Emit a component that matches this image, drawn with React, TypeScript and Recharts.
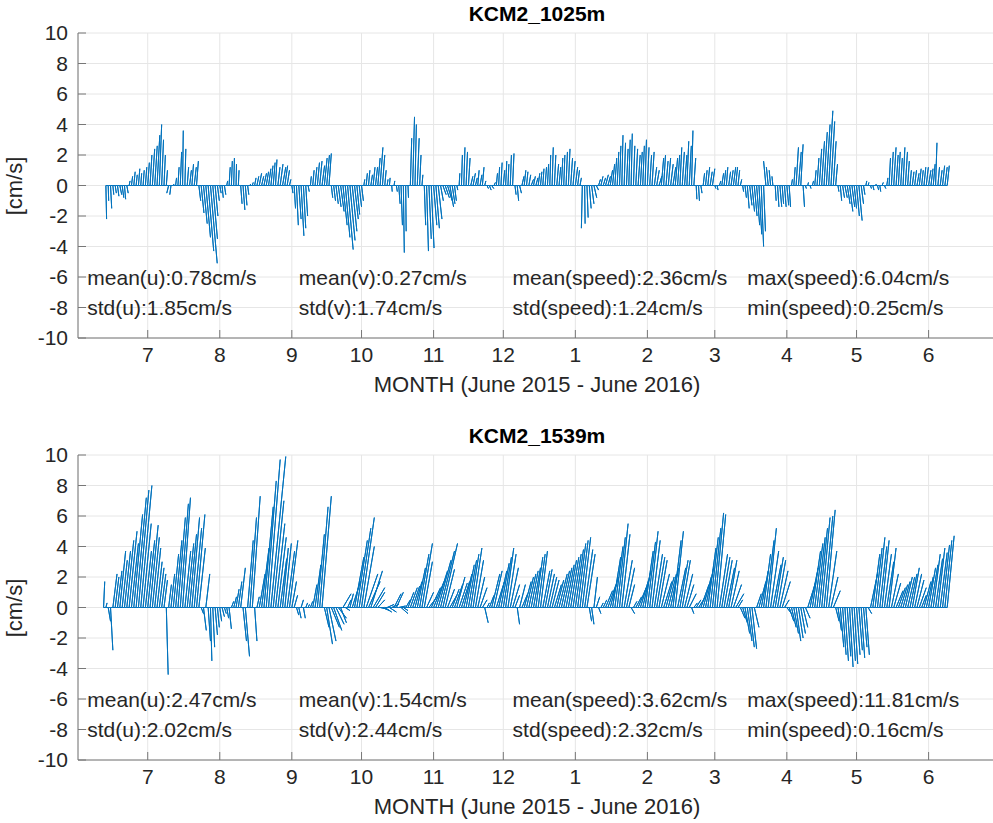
import React from "react";
import { ComposedChart, Line, Scatter, XAxis, YAxis, CartesianGrid } from "recharts";

// month ticks, in days from 1 July 2015
const monthTicks = [0, 31, 62, 92, 123, 153, 184, 215, 244, 275, 305, 336];
const monthLabels = ["7", "8", "9", "10", "11", "12", "1", "2", "3", "4", "5", "6"];
const speedTicks = [-10, -8, -6, -4, -2, 0, 2, 4, 6, 8, 10];

// KCM2_1025m, one stick per day starting at day -18
const start1025 = -18;
const v1025 = [
  -2.2, -1.0, -1.5, -0.6, -0.5, -0.7, -0.6, -0.8, -0.9, -0.5,
  0.3, 0.6, 0.9, 0.7, 1.1, 0.8, 1.0, 1.2, 1.5, 2.0,
  2.4, 2.6, 3.3, 4.0, 3.0, 2.0, 1.0, -0.5, -0.6, 0.1,
  0.5, 1.2, 2.2, 3.6, 2.4, 1.2, 1.0, 1.4, 1.2, 1.6,
  -1.0, -1.8, -2.5, -3.4, -4.3, -5.1, -3.5, -2.0, -1.0, -0.5,
  -0.8, -0.6, 0.3, 1.2, 1.6, 1.8, 1.4, 1.0, -1.2, -1.6,
  -1.3, -0.6, 0.1, 0.2, 0.5, 0.6, 0.8, 0.6, 0.8, 0.9,
  1.1, 1.3, 1.5, 1.7, 1.2, 1.4, 1.2, 1.3, 1.0, 0.4,
  -0.5, -1.5, -2.6, -2.2, -3.3, -2.8, -2.0, -0.4, 0.6, 1.0,
  1.2, 1.5, 1.6, 1.3, 1.8, 2.0, 2.1, -0.8, -1.0, -1.2,
  -1.4, -1.7, -2.6, -3.4, -4.2, -3.6, -3.0, -2.2, -1.9, -1.4,
  -1.0, 0.4, 0.8, 1.0, 0.7, 1.2, 1.2, 1.8, 2.5, 2.0,
  1.0, 0.4, 0.5, -0.4, 0.3, -0.4, -1.2, -2.6, -4.4, -3.0,
  -0.8, 3.1, 4.5, 4.0, 3.1, 2.0, 0.7, -2.6, -4.3, -3.5,
  -4.1, -2.6, -2.8, -2.2, -1.0, -0.6, -0.8, -1.0, -1.4, -1.2,
  -1.0, -0.3, 0.8, 2.0, 2.5, 2.2, 1.8, 0.6, 0.8, 0.5,
  1.0, 0.7, 1.2, 0.3, -0.2, -0.3, -0.2, 0.2, 0.8, 1.2,
  1.5, 1.0, 1.6, 1.4, 2.0, 2.1, -0.6, -1.0, -0.5, 0.6,
  1.0, 0.9, 0.7, 0.4, 0.6, 0.5, 0.8, 0.9, 1.1, 1.2,
  1.4, 2.0, 2.5, 2.0, 1.4, 1.2, 1.8, 2.0, 2.2, 2.4,
  1.8, 1.6, 1.2, 1.0, 0.5, -2.8, -2.5, -2.1, -1.5, -1.2,
  -0.8, -0.3, 0.4, 0.6, 0.5, 0.7, 0.6, 1.0, 1.4, 1.8,
  2.2, 2.6, 3.3, 2.8, 2.4, 3.0, 3.4, 2.6, 2.4, 2.0,
  2.2, 2.6, 3.0, 2.5, 2.0, 2.2, 1.2, 1.0, 0.6, 1.8,
  2.0, 1.6, 1.8, 1.4, 1.2, 1.8, 2.0, 2.5, 2.2, 2.0,
  2.9, 2.6, 3.6, 1.8, -0.9, -1.0, -0.5, 0.8, 1.0, 1.2,
  0.9, 1.1, -0.2, -0.3, 0.3, 0.8, 1.0, 1.2, 0.9, 1.0,
  1.2, 1.2, 1.0, 0.4, -0.4, -0.8, -1.5, -1.3, -1.7, -2.0,
  -2.6, -3.2, -4.0, -3.0, 1.6, 1.2, 1.0, 0.6, -1.0, -1.4,
  -1.4, -1.2, -1.4, -1.3, -1.4, 0.4, 1.2, 2.5, 2.2, 2.7,
  -1.4, -0.2, 0.2, -0.2, 0.3, 1.0, 1.8, 2.4, 2.9, 3.5,
  4.0, 4.9, 4.2, 2.9, 1.4, -0.4, -1.0, -0.8, -0.8, -1.2,
  -1.7, -1.4, -1.5, -2.0, -2.3, -1.2, -0.6, 0.3, 0.2, -0.2,
  -0.3, 0.1, -0.3, -0.4, 0.2, -0.2, 0.5, 1.8, 2.2, 2.5,
  2.0, 2.2, 1.8, 2.5, 2.2, 1.6, 1.0, 0.9, 1.0, 0.8,
  1.1, 1.0, 1.2, 1.2, 1.0, 1.1, 1.4, 2.8, 1.2, 1.0, 1.3, 1.2, 1.3,
];
const u1025 = [
  0.3, 0.2, 0.5, 0.4, 0.5, 0.6, 0.8, 0.7, 0.5, 0.6,
  0.4, 0.5, 0.6, 0.5, 0.6, 0.4, 0.5, 0.6, 0.7, 0.8,
  1.0, 1.1, 1.2, 1.0, 0.8, 0.6, 0.5, -0.8, -0.5, 0.3,
  0.4, 0.5, 0.6, 0.3, 0.4, 0.6, 0.8, 0.7, 0.9, 0.8,
  0.8, 1.2, 1.6, 2.0, 2.4, 2.9, 2.0, 1.2, 0.8, 0.6,
  0.5, 0.6, 0.4, 0.5, 0.4, 0.3, 0.2, 0.3, 0.6, 0.8,
  0.7, 0.5, 0.3, 0.4, 0.6, 0.8, 1.0, 0.9, 1.1, 1.0,
  1.0, 0.9, 0.8, 0.6, 0.9, 1.2, 1.4, 1.2, 1.0, 0.6,
  0.5, 0.6, 0.8, 1.0, 1.2, 1.0, 0.8, 0.5, 0.4, 0.6,
  0.8, 0.9, 1.0, 1.1, 1.2, 1.2, 1.0, 0.6, 0.8, 1.0,
  1.2, 1.5, 1.8, 2.0, 2.4, 2.2, 2.0, 1.6, 1.2, 1.0,
  0.8, 0.4, 0.5, 0.6, 0.7, 0.8, 0.9, 1.0, 1.2, 1.0,
  0.6, 0.4, 0.3, 0.2, 0.3, 0.4, 0.6, 0.6, 0.4, 0.2,
  0.2, 0.6, 0.8, 0.6, 0.8, 0.6, 0.4, 0.6, 0.8, 1.0,
  1.2, 1.4, 1.5, 1.6, 1.2, 1.4, 1.8, 2.0, 1.6, 1.2,
  0.8, 0.4, 0.3, 0.4, 0.5, 0.6, 0.7, 0.9, 1.0, 0.8,
  0.6, 0.8, 0.7, 0.5, 0.6, 0.8, 0.9, 0.6, 0.5, 0.4,
  0.5, 0.6, 0.5, 0.4, 0.5, 0.6, 0.5, 0.6, 0.8, 0.9,
  0.7, 0.6, 0.8, 1.0, 0.8, 0.9, 0.7, 0.6, 0.5, 0.6,
  0.5, 0.4, 0.5, 0.6, 0.8, 0.7, 0.6, 0.5, 0.6, 0.7,
  0.8, 0.9, 1.0, 0.8, 0.6, -0.4, 0.2, 0.5, 0.8, 1.0,
  1.2, 1.0, 0.8, 0.9, 1.0, 1.2, 1.1, 1.0, 0.9, 0.8,
  0.7, 0.6, 0.5, 0.6, 0.7, 0.6, 0.5, 0.6, 0.8, 0.9,
  0.8, 0.7, 0.6, 0.7, 0.8, 0.9, 1.0, 1.1, 1.2, 1.0,
  0.8, 0.9, 1.0, 1.1, 1.2, 1.0, 0.9, 0.8, 0.9, 1.0,
  0.8, 0.9, 0.6, 0.8, 0.3, 0.4, 0.5, 0.6, 0.7, 0.8,
  0.9, 1.0, 0.5, 0.4, 0.6, 0.8, 0.7, 0.6, 0.8, 0.9,
  1.0, 0.8, 0.7, 0.6, 0.4, 0.6, 0.8, 1.0, 1.1, 1.2,
  1.3, 1.2, 1.0, 0.8, -1.0, -0.8, -0.6, -0.4, 0.4, 0.6,
  0.8, 0.6, 0.7, 0.8, 0.6, 0.4, 0.6, 1.0, 1.2, 1.0,
  0.6, 0.4, 0.3, 0.4, 0.5, 0.6, 0.8, 1.0, 1.2, 1.4,
  1.6, 1.8, 1.6, 1.2, 0.8, 0.4, 0.6, 0.8, 1.0, 1.2,
  1.4, 1.2, 1.0, 1.2, 1.4, 1.0, 0.6, 0.4, 0.3, 0.4,
  0.5, 0.6, 0.5, 0.4, 0.5, 0.6, 0.5, 0.6, 0.8, 1.0,
  0.9, 0.8, 0.7, 0.8, 0.9, 0.7, 0.6, 0.7, 0.8, 0.9,
  0.8, 0.7, 0.8, 0.9, 1.0, 0.9, 0.8, 0.6, 0.7, 0.8, 0.9, 1.0, 0.9,
];

// KCM2_1539m, one stick per day starting at day -19
const start1539 = -19;
const v1539 = [
  1.7, 0.3, -0.9, -2.8, 2.2, 2.0, 2.4, 3.7, 3.1, 3.7,
  4.4, 5.0, 4.2, 6.1, 7.2, 7.7, 8.0, 5.5, 3.7, 4.4,
  5.4, 4.6, 3.9, 3.0, 2.6, 2.2, 1.8, -4.4, 1.5, 2.2,
  3.5, 4.4, 5.9, 6.8, 7.2, 3.7, 4.2, 4.8, 5.9, 5.2,
  6.1, 3.9, -0.4, -1.5, 2.2, -2.2, -3.5, -2.6, -1.8, -1.3,
  -0.9, -0.6, -0.4, -0.7, -1.4, 0.4, 0.7, 1.2, 1.7, 2.6,
  -2.2, -3.2, 4.4, 5.9, 7.3, -2.2, 0.7, 2.2, 3.9, 6.6,
  8.3, 9.7, 9.9, 7.0, 5.5, 4.6, 3.2, 3.9, 4.2, 3.7,
  4.4, 1.7, 0.8, -0.5, -0.7, 0.5, -0.7, 0.3, 0.2, 0.4,
  1.5, 2.8, 4.8, 6.6, 7.3, -1.3, -2.4, -2.2, -1.3, -1.5,
  -1.1, -0.7, -1.0, 0.9, -0.2, 0.5, 0.9, 1.7, 3.3, 4.4,
  5.2, 5.9, 4.0, 2.2, 1.7, 2.4, 1.3, 1.0, 0.5, -0.1,
  -0.2, -0.3, 0.2, -0.3, 0.2, 0.9, 1.0, 0.1, -0.4, -0.2,
  0.5, 1.0, 1.3, 1.4, 1.7, 2.6, 3.5, 4.2, 3.0, 1.0,
  0.7, 1.3, 1.7, 2.4, 3.1, 3.7, 4.2, 2.5, 1.2, 0.8,
  1.2, 1.5, 2.0, 1.6, 1.7, 2.2, 2.8, 3.1, 3.5, 3.9,
  3.1, 2.0, 1.3, 0.5, -1.0, 0.3, 0.8, 2.2, 2.4, 1.7,
  2.4, 2.9, 3.3, 3.9, 3.5, 2.6, 1.5, 0.8, -1.1, 1.5,
  0.9, 1.7, 2.0, 2.2, 2.4, 2.6, 3.3, 3.5, 3.7, 2.4,
  2.5, 2.2, 2.0, 1.8, 1.5, 1.8, 2.2, 2.4, 2.6, 2.8,
  3.1, 3.3, 3.5, 3.8, 4.2, 4.4, 4.6, 3.8, 3.5, -0.9,
  -1.1, 2.0, 0.7, -0.4, 0.3, 0.5, 1.1, 1.5, 2.0, 3.3,
  4.0, 4.6, 5.5, 4.8, 3.1, 2.6, 1.5, -0.4, 0.4, 0.7,
  1.3, 1.8, 2.4, 3.7, 4.3, 5.0, 4.4, 3.5, 3.3, 3.1,
  2.2, 1.7, 2.0, 2.2, 2.6, 4.4, 5.0, 2.6, 3.1, 3.1,
  2.2, 1.5, 0.9, -0.4, 0.3, 0.5, 0.7, 1.5, 2.0, 2.6,
  3.9, 4.6, 5.2, 6.2, 6.1, 3.5, 3.3, 3.1, 2.6, 3.1,
  2.4, 1.5, 0.9, 0.5, -0.7, -1.0, -1.7, -2.2, -2.6, -2.7,
  -1.3, 0.9, 1.7, 2.4, 3.5, 4.4, 5.2, 3.7, 2.8, 3.3,
  3.1, 2.4, 1.7, 0.5, -0.4, -0.9, -1.3, -1.7, -2.2, -2.0,
  -1.7, -1.3, -0.7, 1.7, 2.6, 3.7, 4.2, 4.6, 5.2, 5.9,
  6.0, 6.4, 3.7, 2.0, 1.1, -0.9, -1.5, -2.6, -3.1, -3.5,
  -3.2, -3.9, -3.5, -3.7, -3.1, -2.8, -3.3, -2.6, -3.1, -0.4,
  2.2, 3.5, 3.9, 4.6, 4.0, 4.4, 3.5, 3.0, 3.9, 2.2,
  1.6, 1.1, 1.3, 1.5, 1.7, 2.0, 2.0, 2.2, 2.6, 2.2,
  1.8, 1.3, 0.8, 1.7, 2.0, 2.6, 2.8, 3.5, 3.2, 3.9, 3.6, 4.1, 4.4, 4.7,
];
const u1539 = [
  0.5, 0.5, 1.0, 1.0, 1.8, 1.6, 1.9, 2.5, 2.2, 2.6,
  3.0, 3.4, 3.0, 3.8, 4.4, 4.5, 4.8, 3.5, 2.6, 3.0,
  3.5, 3.0, 2.6, 2.2, 2.0, 1.8, 1.5, 0.8, 1.2, 1.6,
  2.3, 2.7, 3.2, 3.5, 3.4, 2.5, 2.8, 3.0, 3.3, 3.2,
  3.6, 2.8, 1.0, 1.2, 1.7, 1.0, 0.6, 0.8, 1.0, 0.8,
  0.8, 1.0, 0.8, 0.8, 1.0, 1.0, 1.2, 1.3, 1.5, 2.0,
  1.5, 1.8, 2.4, 2.8, 3.4, 1.0, 1.0, 2.5, 3.2, 4.0,
  4.3, 5.0, 6.4, 4.6, 4.0, 3.6, 2.8, 2.5, 2.8, 3.2,
  3.6, 2.0, 1.5, 1.0, 1.0, 1.0, 0.8, 0.8, 0.6, 1.0,
  1.8, 2.5, 3.0, 3.6, 4.0, 2.0, 2.5, 3.0, 3.5, 3.5,
  3.5, 3.5, 2.5, 3.5, 2.0, 1.5, 1.5, 3.5, 4.0, 4.5,
  5.0, 5.5, 4.5, 5.0, 5.0, 5.0, 5.0, 4.0, 3.0, 3.0,
  3.0, 3.0, 3.0, 3.0, 3.0, 3.0, 3.0, 3.0, 3.0, 2.0,
  2.0, 2.5, 3.0, 3.0, 3.0, 3.5, 4.0, 4.5, 3.5, 3.0,
  3.5, 4.0, 4.5, 5.0, 5.5, 6.0, 6.3, 4.0, 3.0, 3.0,
  3.0, 3.5, 3.5, 3.5, 3.5, 3.5, 3.5, 3.5, 3.5, 3.8,
  3.5, 3.0, 3.0, 2.0, 1.5, 1.0, 2.0, 3.5, 3.5, 3.5,
  3.5, 3.5, 3.5, 3.5, 3.5, 3.5, 3.0, 2.0, 1.0, 2.5,
  2.5, 3.0, 3.0, 3.0, 3.0, 3.0, 3.0, 3.0, 3.0, 3.0,
  3.0, 3.0, 3.0, 3.0, 3.0, 3.0, 3.5, 3.5, 3.5, 3.5,
  3.5, 3.5, 3.5, 3.5, 3.5, 3.5, 3.6, 3.5, 3.5, 1.0,
  1.0, 1.5, 1.5, 1.0, 1.0, 1.5, 3.0, 3.5, 3.5, 3.5,
  3.5, 3.5, 3.7, 3.5, 3.5, 3.5, 2.5, 1.5, 1.5, 2.5,
  3.5, 3.5, 3.5, 3.5, 3.5, 3.6, 3.5, 3.5, 3.5, 3.5,
  3.5, 3.5, 3.5, 3.5, 3.5, 3.5, 3.5, 3.5, 3.5, 3.5,
  3.5, 3.0, 3.0, 1.0, 1.5, 2.0, 3.0, 3.5, 3.5, 3.5,
  3.5, 3.5, 3.6, 3.8, 3.7, 3.5, 3.5, 3.5, 3.5, 3.5,
  3.5, 3.5, 3.5, 2.0, 2.0, 2.0, 2.0, 2.0, 2.0, 2.0,
  2.0, 2.0, 3.0, 3.0, 3.0, 3.5, 3.5, 3.5, 3.5, 3.5,
  3.5, 3.5, 3.5, 2.0, 2.0, 2.0, 2.0, 2.0, 2.0, 2.0,
  2.0, 2.0, 2.0, 3.5, 3.5, 3.5, 3.5, 3.5, 3.5, 3.6,
  3.8, 3.8, 3.5, 3.0, 3.0, 1.5, 1.5, 1.5, 1.5, 1.5,
  1.5, 1.5, 1.5, 1.5, 1.5, 1.5, 1.5, 1.5, 1.5, 1.5,
  3.0, 3.0, 3.0, 3.2, 3.0, 3.0, 3.0, 3.0, 3.0, 3.0,
  3.0, 3.0, 3.0, 3.0, 3.0, 3.0, 3.0, 3.0, 3.0, 3.0,
  3.0, 3.0, 2.0, 3.0, 3.0, 3.0, 3.0, 3.0, 3.0, 3.0, 3.0, 3.0, 3.0, 3.0,
];

const stats1025 = [
  ["mean(u):0.78cm/s", "mean(v):0.27cm/s", "mean(speed):2.36cm/s", "max(speed):6.04cm/s"],
  ["std(u):1.85cm/s", "std(v):1.74cm/s", "std(speed):1.24cm/s", "min(speed):0.25cm/s"],
];
const stats1539 = [
  ["mean(u):2.47cm/s", "mean(v):1.54cm/s", "mean(speed):3.62cm/s", "max(speed):11.81cm/s"],
  ["std(u):2.02cm/s", "std(v):2.44cm/s", "std(speed):2.32cm/s", "min(speed):0.16cm/s"],
];

const TEXT = "#262626";
const FRAME = "#777777";
const BLUE = "#0072BD";
const FONT = '"Liberation Sans", Arial, Helvetica, sans-serif';

// stick i goes from (t, 0) to (t + u, v), then back to the zero line
function buildSticks(start: number, v: number[], u: number[]) {
  const pts: { x: number; y: number }[] = [];
  v.forEach((vy, i) => {
    const t = start + i;
    pts.push({ x: t, y: 0 }, { x: t + u[i], y: vy }, { x: t, y: 0 });
  });
  return pts;
}

function buildLabels(stats: string[][]) {
  const cols = [-26, 65, 157, 258];
  const rows = [-6, -8];
  const out: { x: number; y: number; text: string }[] = [];
  stats.forEach((row, r) => row.forEach((text, c) => out.push({ x: cols[c], y: rows[r], text })));
  return out;
}

const monthLabel = (d: number) => monthLabels[monthTicks.indexOf(d)] ?? "";

const StatText = (p: any) => (
  <text x={p.cx} y={p.cy} dominantBaseline="central" fontSize={21} fill={TEXT}>
    {p.payload.text}
  </text>
);

const W = 1000;
const H = 400;

const Panel = ({ top, marginTop, title, sticks, labels }: any) => {
  const plotTop = top + marginTop;
  const plotMid = plotTop + 152.5;
  return (
    <>
      <div
        style={{
          position: "absolute", left: 78, width: 918, top: plotTop - 31, lineHeight: "24px",
          textAlign: "center", fontWeight: "bold", fontSize: 21, color: "#000",
        }}
      >
        {title}
      </div>
      <div
        style={{
          position: "absolute", left: 15 - 60, width: 120, top: plotMid - 13, lineHeight: "26px",
          textAlign: "center", fontSize: 22, color: TEXT, transform: "rotate(-90deg)",
        }}
      >
        [cm/s]
      </div>
      <div
        style={{
          position: "absolute", left: 78, width: 918, top: plotTop + 305 + 34, lineHeight: "26px",
          textAlign: "center", fontSize: 22, color: TEXT,
        }}
      >
        MONTH (June 2015 - June 2016)
      </div>
      <div style={{ position: "absolute", left: 0, top, width: W, height: H }}>
        <ComposedChart width={W} height={H} margin={{ top: marginTop, right: 4, bottom: H - marginTop - 305 - 40, left: 8 }}>
          <CartesianGrid stroke="#e6e6e6" strokeWidth={1} />
          <XAxis
            type="number" dataKey="x" domain={[-30, 365]} allowDataOverflow ticks={monthTicks} interval={0}
            tickFormatter={monthLabel} height={40} tickSize={-8} tickMargin={17} stroke={FRAME}
            tick={{ fill: TEXT, fontSize: 21 }}
          />
          <XAxis
            xAxisId="top" orientation="top" type="number" dataKey="x" domain={[-30, 365]} allowDataOverflow
            ticks={monthTicks} interval={0} height={0} tickSize={-8} tick={false} stroke={FRAME}
          />
          <YAxis
            type="number" domain={[-10, 10]} allowDataOverflow ticks={speedTicks} interval={0} width={70}
            tickSize={-8} tickMargin={18} stroke={FRAME} tick={{ fill: TEXT, fontSize: 21 }}
          />
          <YAxis
            yAxisId="right" orientation="right" type="number" domain={[-10, 10]} allowDataOverflow
            ticks={speedTicks} interval={0} width={0} tickSize={-8} tick={false} stroke={FRAME}
          />
          <Line
            data={sticks} dataKey="y" type="linear" stroke={BLUE} strokeWidth={1} strokeLinejoin="round"
            dot={false} activeDot={false} isAnimationActive={false}
          />
          <Scatter data={labels} dataKey="y" shape={StatText} isAnimationActive={false} />
        </ComposedChart>
      </div>
    </>
  );
};

export default function App() {
  const sticks1025 = buildSticks(start1025, v1025, u1025);
  const sticks1539 = buildSticks(start1539, v1539, u1539);
  return (
    <div
      style={{
        position: "fixed", left: 0, top: 0, width: 993, height: 823, overflow: "hidden",
        background: "#fff", fontFamily: FONT,
      }}
    >
      <Panel top={0} marginTop={33} title="KCM2_1025m" sticks={sticks1025} labels={buildLabels(stats1025)} />
      <Panel top={420} marginTop={35} title="KCM2_1539m" sticks={sticks1539} labels={buildLabels(stats1539)} />
    </div>
  );
}
